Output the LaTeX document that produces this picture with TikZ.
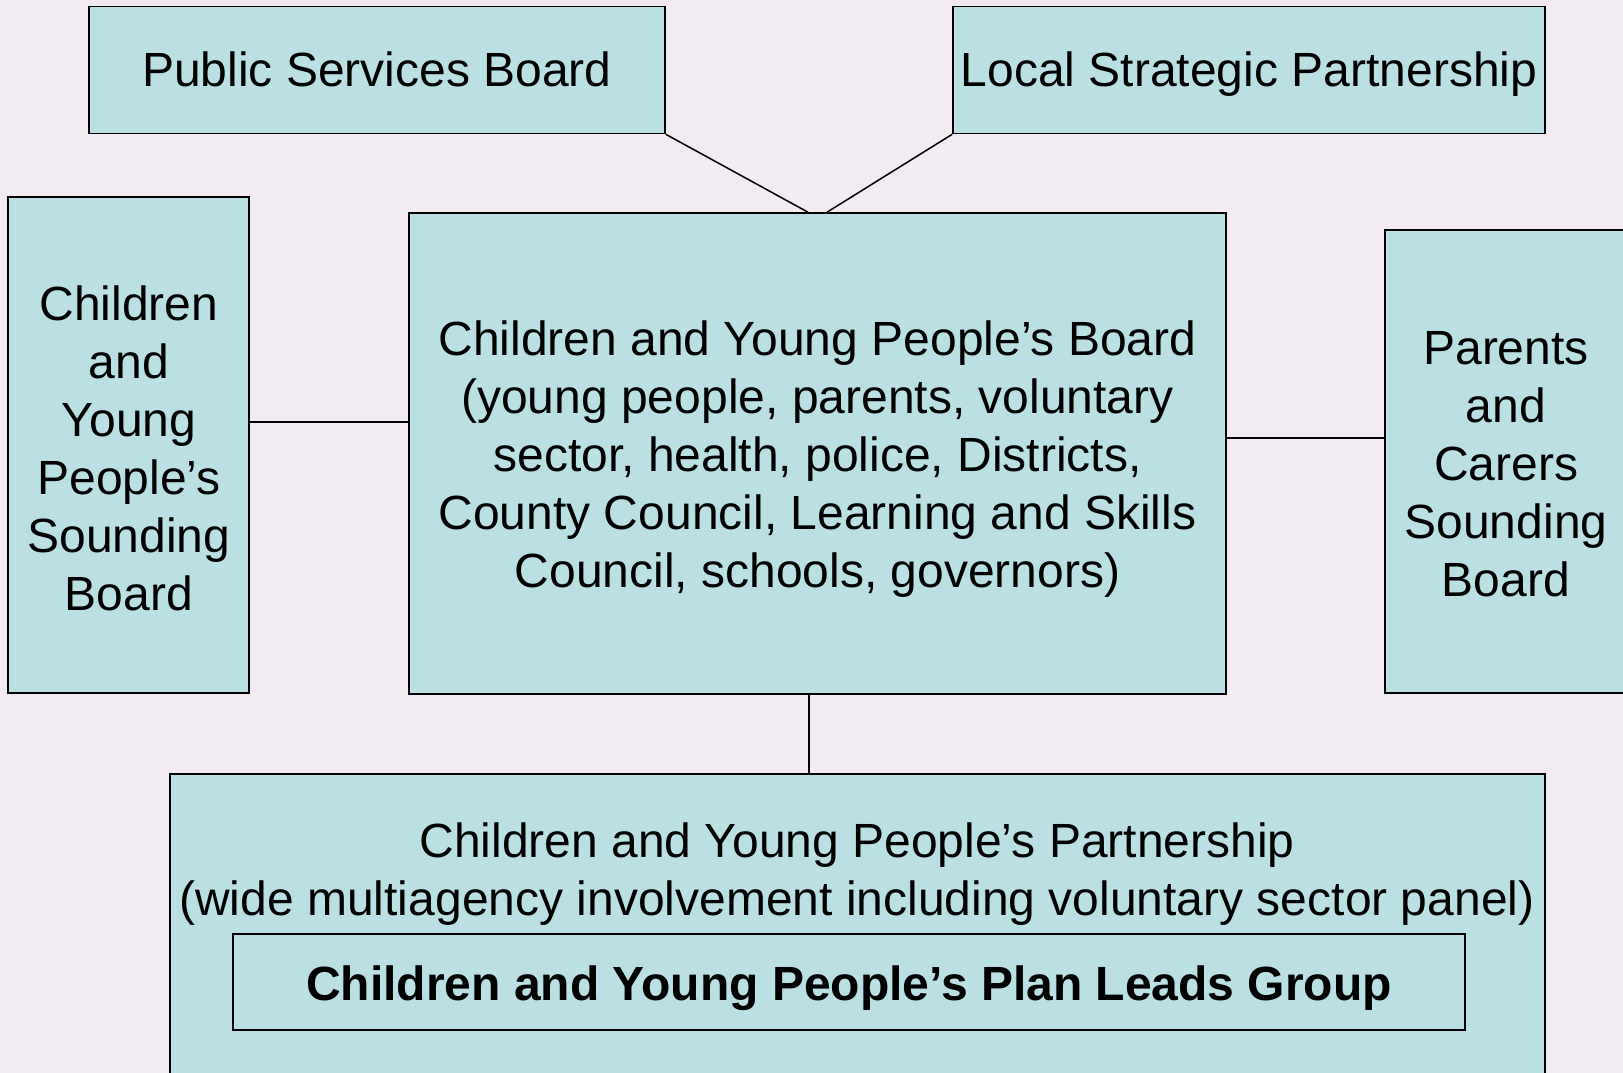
\documentclass[tikz,border=0pt]{standalone}
\usepackage{fontspec}
\setmainfont{Liberation Sans}
\definecolor{pagebg}{RGB}{242,235,242}
\definecolor{boxfill}{RGB}{186,224,227}
\begin{document}
\begin{tikzpicture}[x=1pt,y=-1pt,
  orgbox/.style={draw=black, line width=1.6pt, fill=boxfill, rectangle, inner sep=0pt},
  boxtext/.style={align=center, font=\fontsize{48}{58}\selectfont, inner sep=0pt},
  link/.style={draw=black, line width=1.5pt}]
  % page
  \fill[pagebg] (0,0) rectangle (1623,1073);
  \useasboundingbox (0,0) rectangle (1623,1073);
  \clip (0,0) rectangle (1623,1073);

  % top row
  \node[orgbox, minimum width=576pt, minimum height=127pt] (psb) at (377,70) {};
  \node[boxtext, anchor=base] at (377,87) {Public Services Board};
  \node[orgbox, minimum width=592pt, minimum height=127pt] (lsp) at (1249,70) {};
  \node[boxtext, anchor=base] at (1249,87) {Local Strategic Partnership};

  % middle row
  \node[orgbox, minimum width=241pt, minimum height=496pt] (cysb) at (128.5,445) {};
  \node[boxtext] at (129,448) {Children\\and\\Young\\People’s\\Sounding\\Board};
  \node[orgbox, minimum width=817pt, minimum height=481pt] (board) at (817.5,453.5) {};
  \node[boxtext] at (817.5,459) {Children and Young People’s Board\\(young people, parents, voluntary\\sector, health, police, Districts,\\County Council, Learning and Skills\\Council, schools, governors)};
  \node[orgbox, minimum width=242pt, minimum height=463pt] (pcsb) at (1506,461.5) {};
  \node[boxtext] at (1506,464) {Parents\\and\\Carers\\Sounding\\Board};

  % bottom row
  \node[orgbox, minimum width=1375pt, minimum height=320pt] (part) at (857.5,934) {};
  \node[boxtext] (parttext) at (857,874) {Children and Young People’s Partnership\\(wide multiagency involvement including voluntary sector panel)};
  \node[orgbox, minimum width=1232pt, minimum height=96pt] (leads) at (849,982) {};
  \node[boxtext, anchor=base, font=\fontsize{48}{58}\selectfont\bfseries] at (849,1000) {Children and Young People’s Plan Leads Group};

  % connectors
  \coordinate (ly) at (0,422);
  \coordinate (ry) at (0,438);
  \coordinate (vx) at (809,0);
  \draw[link] (psb.south east) -- ([xshift=-9.5pt]board.north);
  \draw[link] (lsp.south west) -- ([xshift=9.5pt]board.north);
  \draw[link] (ly -| cysb.east) -- (ly -| board.west);
  \draw[link] (ry -| board.east) -- (ry -| pcsb.west);
  \draw[link] (vx |- board.south) -- (vx |- part.north);
\end{tikzpicture}
\end{document}
